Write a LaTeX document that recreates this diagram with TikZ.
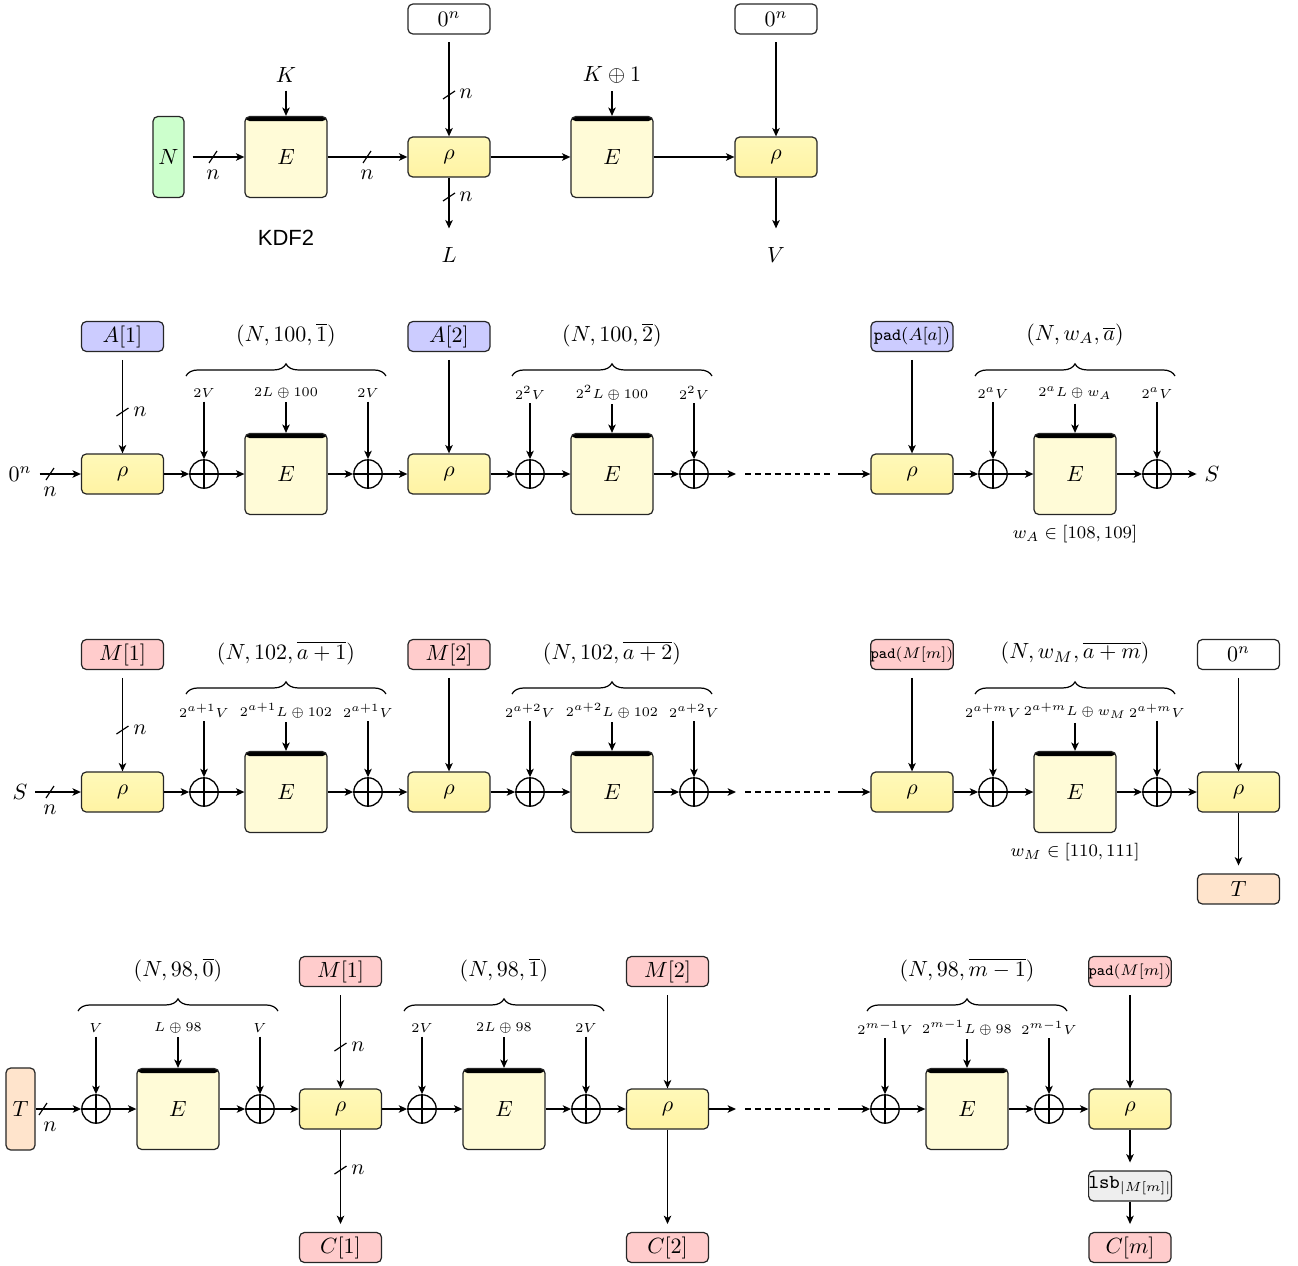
\documentclass[tikz,border=0pt]{standalone}
\usepackage{fontspec}
\newfontfamily\kdffont{Liberation Sans}
\usetikzlibrary{arrows.meta,decorations.pathreplacing}
\definecolor{rhotop}{RGB}{255,249,185}
\definecolor{rhobot}{RGB}{255,243,163}
\definecolor{efill}{RGB}{255,251,215}
\definecolor{gfill}{RGB}{204,255,204}
\definecolor{bfill}{RGB}{204,204,255}
\definecolor{pfill}{RGB}{255,204,204}
\definecolor{ofill}{RGB}{255,228,204}
\definecolor{lfill}{RGB}{238,238,238}
\tikzset{
  rbox/.style={draw=black!85, line width=0.55pt, rounded corners=2.2pt, minimum width=37.3pt, minimum height=18.2pt, inner sep=0pt, top color=rhotop, bottom color=rhobot},
  ebox/.style={draw=black!85, line width=0.55pt, rounded corners=2.2pt, fill=efill, minimum width=37.3pt, minimum height=36.8pt, inner sep=0pt,
    path picture={\fill[black] (path picture bounding box.north west) rectangle ([yshift=-2.1pt]path picture bounding box.north east);}},
  ibox/.style={draw=black!85, line width=0.55pt, rounded corners=2.2pt, minimum width=37.3pt, minimum height=13.6pt, inner sep=0pt},
  tallbox/.style={draw=black!85, line width=0.55pt, rounded corners=2.2pt, minimum width=13.6pt, minimum height=37pt, inner sep=0pt},
  xorc/.style={circle, draw, line width=0.6pt, minimum size=12.9pt, inner sep=0pt,
    path picture={\draw[line width=0.6pt] (path picture bounding box.north) -- (path picture bounding box.south) (path picture bounding box.west) -- (path picture bounding box.east);}},
  sml/.style={font=\fontsize{6.5}{7.5}\selectfont, inner sep=1.5pt},
  brc/.style={decorate, decoration={brace, amplitude=5.5pt}, line width=0.55pt},
  dsh/.style={line width=0.6pt, dash pattern=on 2.7pt off 1.8pt},
  padtxt/.style={font=\fontsize{7.8}{9}\selectfont},
  padmtxt/.style={font=\fontsize{7.1}{8.5}\selectfont},
  wtxt/.style={font=\footnotesize}
}
\newcommand\hsl[1]{\draw[line width=0.55pt] #1 +(-4,6) -- +(4,-6);}
\newcommand\vsl[1]{\draw[line width=0.55pt] #1 +(-6,4) -- +(6,-4);}
\newcommand\mkseg[7]{%
  \node[xorc] (#1xl) at (#2-82,#3) {};
  \node[ebox] (#1E) at (#2,#3) {$E$};
  \node[xorc] (#1xr) at (#2+82,#3) {};
  \node[sml] (#1ll) at (#2-82,#3-81) {#4};
  \node[sml] (#1kl) at (#2,#3-81) {#5};
  \node[sml] (#1rl) at (#2+82,#3-81) {#6};
  \draw[->] (#1ll) -- (#1xl);
  \draw[->] (#1kl) -- (#1E);
  \draw[->] (#1rl) -- (#1xr);
  \draw[->] (#1xl) -- (#1E);
  \draw[->] (#1E) -- (#1xr);
  \draw[brc] (#2-100,#3-98) -- (#2+100,#3-98);
  \node (#1bl) at (#2,#3-139) {#7};
}
\begin{document}
\begin{tikzpicture}[x=0.4545pt,y=-0.4545pt, line width=0.65pt, >={Stealth[length=3.8pt,width=3.4pt,inset=1pt]}]
\useasboundingbox (0,0) rectangle (1298,1265);

% ---------------- Row 1: KDF2 ----------------
\node[tallbox, fill=gfill, minimum width=14.1pt, minimum height=36.8pt] (N) at (168.5,157) {$N$};
\node[ebox] (E11) at (286,157) {$E$};
\node (K1) at (286,75) {$K$};
\node[rbox] (r11) at (449,157) {$\rho$};
\node[ibox] (z11) at (449,19) {$0^n$};
\node (L) at (449,255) {$L$};
\node[ebox] (E12) at (612,157) {$E$};
\node (K2) at (612,75) {$K\oplus 1$};
\node[rbox] (r12) at (776,157) {$\rho$};
\node[ibox] (z12) at (776,19) {$0^n$};
\node (V) at (776,255) {$V$};
\node (kdf) at (286,238) {\kdffont KDF2};

\draw[->, shorten <=3.6pt] (N) -- (E11);
\hsl{(213,157)} \node at (213,175) {$n$};
\draw[->] (K1) -- (E11);
\draw[->] (E11) -- (r11);
\hsl{(367,157)} \node at (367,175) {$n$};
\draw[->, shorten <=3.6pt] (z11) -- (r11);
\vsl{(449,95)} \node at (466,94) {$n$};
\draw[->, shorten >=5pt] (r11) -- (L);
\vsl{(449,197)} \node at (466,197) {$n$};
\draw[->] (r11) -- (E12);
\draw[->] (K2) -- (E12);
\draw[->] (E12) -- (r12);
\draw[->, shorten <=3.6pt] (z12) -- (r12);
\draw[->, shorten >=5pt] (r12) -- (V);

% ---------------- Row 2: associated data ----------------
\node (z20) at (20,474) {$0^n$};
\node[rbox] (r21) at (122.5,474) {$\rho$};
\node[ibox, fill=bfill] (a1) at (122.5,336.5) {$A[1]$};
\draw[->] (z20) -- (r21);
\hsl{(50,474)} \node at (50,492) {$n$};
\draw[->, shorten <=3.6pt] (a1) -- (r21);
\vsl{(122.5,412)} \node at (140,412) {$n$};
\mkseg{s21}{286}{474}{$2V$}{$2L\oplus 100$}{$2V$}{$(N,100,\overline{1})$}
\draw[->] (r21) -- (s21xl);
\node[rbox] (r22) at (449,474) {$\rho$};
\node[ibox, fill=bfill] (a2) at (449,336.5) {$A[2]$};
\draw[->, shorten <=3.6pt] (a2) -- (r22);
\draw[->] (s21xr) -- (r22);
\mkseg{s22}{612}{474}{$2^2V$}{$2^2L\oplus 100$}{$2^2V$}{$(N,100,\overline{2})$}
\draw[->] (r22) -- (s22xl);
\coordinate (d2a) at (736,474);
\coordinate (d2b) at (745,474);
\coordinate (d2c) at (832,474);
\coordinate (d2d) at (838,474);
\node[rbox] (r23) at (912,474) {$\rho$};
\node[ibox, fill=bfill, padtxt] (a3) at (912,336.5) {\texttt{pad}$(A[a])$};
\draw[->] (s22xr) -- (d2a);
\draw[dsh] (d2b) -- (d2c);
\draw[->] (d2d) -- (r23);
\draw[->, shorten <=3.6pt] (a3) -- (r23);
\mkseg{s23}{1075}{474}{$2^aV$}{$2^aL\oplus w_A$}{$2^aV$}{$(N,w_A,\overline{a})$}
\draw[->] (r23) -- (s23xl);
\node (S1) at (1212,474) {$S$};
\draw[->] (s23xr) -- (S1);
\node[wtxt] (wa) at (1075,534) {$w_A\in[108,109]$};

% ---------------- Row 3: message / tag ----------------
\node (S2) at (20,792) {$S$};
\node[rbox] (r31) at (122.5,792) {$\rho$};
\node[ibox, fill=pfill] (m31) at (122.5,654.5) {$M[1]$};
\draw[->] (S2) -- (r31);
\hsl{(50,792)} \node at (50,810) {$n$};
\draw[->, shorten <=3.6pt] (m31) -- (r31);
\vsl{(122.5,730)} \node at (140,730) {$n$};
\mkseg{s31}{286}{792}{$2^{a+1}V$}{$2^{a+1}L\oplus 102$}{$2^{a+1}V$}{$(N,102,\overline{a+1})$}
\draw[->] (r31) -- (s31xl);
\node[rbox] (r32) at (449,792) {$\rho$};
\node[ibox, fill=pfill] (m32) at (449,654.5) {$M[2]$};
\draw[->, shorten <=3.6pt] (m32) -- (r32);
\draw[->] (s31xr) -- (r32);
\mkseg{s32}{612}{792}{$2^{a+2}V$}{$2^{a+2}L\oplus 102$}{$2^{a+2}V$}{$(N,102,\overline{a+2})$}
\draw[->] (r32) -- (s32xl);
\coordinate (d3a) at (736,792);
\coordinate (d3b) at (745,792);
\coordinate (d3c) at (832,792);
\coordinate (d3d) at (838,792);
\node[rbox] (r33) at (912,792) {$\rho$};
\node[ibox, fill=pfill, padmtxt] (m33) at (912,654.5) {\texttt{pad}$(M[m])$};
\draw[->] (s32xr) -- (d3a);
\draw[dsh] (d3b) -- (d3c);
\draw[->] (d3d) -- (r33);
\draw[->, shorten <=3.6pt] (m33) -- (r33);
\mkseg{s33}{1075}{792}{$2^{a+m}V$}{$2^{a+m}L\oplus w_M$}{$2^{a+m}V$}{$(N,w_M,\overline{a+m})$}
\draw[->] (r33) -- (s33xl);
\node[rbox] (r34) at (1238.5,792) {$\rho$};
\node[ibox] (z34) at (1238.5,654.5) {$0^n$};
\node[ibox, fill=ofill] (T1) at (1238.5,889) {$T$};
\draw[->] (s33xr) -- (r34);
\draw[->, shorten <=3.6pt] (z34) -- (r34);
\draw[->, shorten >=3.6pt] (r34) -- (T1);
\node[wtxt] (wm) at (1075,852) {$w_M\in[110,111]$};

% ---------------- Row 4: encryption ----------------
\node[tallbox, fill=ofill, minimum width=13.2pt, minimum height=37.3pt] (T2) at (20.5,1109) {$T$};
\mkseg{s41}{178}{1109}{$V$}{$L\oplus 98$}{$V$}{$(N,98,\overline{0})$}
\draw[->] (T2) -- (s41xl);
\hsl{(43,1109)} \node at (50,1127) {$n$};
\node[rbox] (r41) at (340.5,1109) {$\rho$};
\node[ibox, fill=pfill] (m41) at (340.5,971.5) {$M[1]$};
\node[ibox, fill=pfill] (c41) at (340.5,1247.5) {$C[1]$};
\draw[->] (s41xr) -- (r41);
\draw[->, shorten <=3.6pt] (m41) -- (r41);
\vsl{(340.5,1047)} \node at (358,1047) {$n$};
\draw[->, shorten >=3.6pt] (r41) -- (c41);
\vsl{(340.5,1170)} \node at (358,1170) {$n$};
\mkseg{s42}{504}{1109}{$2V$}{$2L\oplus 98$}{$2V$}{$(N,98,\overline{1})$}
\draw[->] (r41) -- (s42xl);
\node[rbox] (r42) at (667.5,1109) {$\rho$};
\node[ibox, fill=pfill] (m42) at (667.5,971.5) {$M[2]$};
\node[ibox, fill=pfill] (c42) at (667.5,1247.5) {$C[2]$};
\draw[->] (s42xr) -- (r42);
\draw[->, shorten <=3.6pt] (m42) -- (r42);
\draw[->, shorten >=3.6pt] (r42) -- (c42);
\coordinate (d4a) at (736,1109);
\coordinate (d4b) at (745,1109);
\coordinate (d4c) at (832,1109);
\coordinate (d4d) at (838,1109);
\mkseg{s43}{967}{1109}{$2^{m-1}V$}{$2^{m-1}L\oplus 98$}{$2^{m-1}V$}{$(N,98,\overline{m-1})$}
\draw[->] (r42) -- (d4a);
\draw[dsh] (d4b) -- (d4c);
\draw[->] (d4d) -- (s43xl);
\node[rbox] (r43) at (1130,1109) {$\rho$};
\node[ibox, fill=pfill, padmtxt] (m43) at (1130,971.5) {\texttt{pad}$(M[m])$};
\node[ibox, fill=lfill, font=\small] (lsb) at (1130,1186) {\texttt{lsb}$_{|M[m]|}$};
\node[ibox, fill=pfill] (c43) at (1130,1247.5) {$C[m]$};
\draw[->] (s43xr) -- (r43);
\draw[->, shorten <=3.6pt] (m43) -- (r43);
\draw[->, shorten >=3.6pt] (r43) -- (lsb);
\draw[->, shorten >=3.6pt] (lsb) -- (c43);
\end{tikzpicture}
\end{document}
